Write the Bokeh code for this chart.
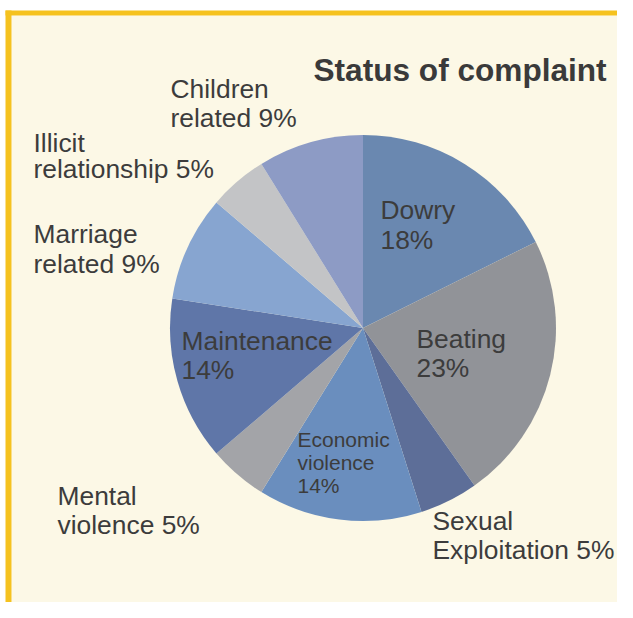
import numpy as np
from bokeh.plotting import figure
from bokeh.models import Range1d, ColumnDataSource
from bokeh.core.properties import value
from bokeh.embed import file_html
from bokeh.resources import INLINE

# ---- data ----
categories = ["Dowry", "Beating", "Sexual Exploitation", "Economic violence",
              "Mental violence", "Maintenance", "Marriage related",
              "Illicit relationship", "Children related"]
percent = [18, 23, 5, 14, 5, 14, 9, 5, 9]
colors = ["#6A88B0", "#919398", "#5D6E98", "#6A8EBE", "#A3A4A8",
          "#5F76A8", "#87A5D0", "#C3C4C6", "#8D9BC5"]
title_text = "Status of complaint"

# label lines (text) and their layout (positions in reference pixel space)
label_lines = [
    ["Dowry", "18%"],
    ["Beating", "23%"],
    ["Sexual", "Exploitation 5%"],
    ["Economic", "violence", "14%"],
    ["Mental", "violence 5%"],
    ["Maintenance", "14%"],
    ["Marriage", "related 9%"],
    ["Illicit", "relationship 5%"],
    ["Children", "related 9%"],
]
label_x = [380, 416, 432, 297, 57, 181, 33, 33, 170]
label_y0 = [209, 338, 520, 439, 495, 340, 233, 142, 88]
label_step = [30, 29, 29, 23, 29, 29, 30, 26, 29]
label_size = ["26.4px", "26.4px", "26.4px", "21px", "26.4px", "26.4px",
              "26.4px", "26.4px", "26.4px"]

W, H = 617, 602
PAGE_H = 618

def fy(y):  # reference pixel y -> data y
    return PAGE_H - y

p = figure(width=W, height=H, output_backend="svg", toolbar_location=None,
           x_range=Range1d(0, W), y_range=Range1d(fy(H), fy(0)),
           min_border=0)
p.axis.visible = False
p.grid.visible = False
p.outline_line_color = None
p.background_fill_color = "white"
p.border_fill_color = "white"

# panel background and yellow frame
p.quad(left=[11], right=[W], bottom=[fy(H)], top=[fy(15)],
       fill_color="#FCF8E6", line_color=None)
p.quad(left=[5], right=[W], bottom=[fy(15)], top=[fy(10)],
       fill_color="#F5C21F", line_color=None)
p.quad(left=[5], right=[11], bottom=[fy(H)], top=[fy(10)],
       fill_color="#F5C21F", line_color=None)

# pie
vals = np.array(percent, dtype=float)
frac = vals / vals.sum()
cum = np.concatenate([[0], np.cumsum(frac)])
start = np.pi / 2 - 2 * np.pi * cum[:-1]
end = np.pi / 2 - 2 * np.pi * cum[1:]
cx, cy, r = 362.5, fy(327.5), 193
src = ColumnDataSource(dict(start=start, end=end, color=colors, cat=categories))
p.wedge(x=cx, y=cy, radius=r, start_angle="start", end_angle="end",
        direction="clock", fill_color="color", line_color=None, source=src)

# title
p.text(x=[313], y=[fy(69)], text=[title_text], text_font=value("Liberation Sans"),
       text_font_size="31.6px", text_font_style="bold", text_color="#3A3A3A",
       text_baseline="alphabetic", text_align="left")

# labels
for lines, x, y0, st, fs in zip(label_lines, label_x, label_y0, label_step, label_size):
    ys = [fy(y0 + i * st) for i in range(len(lines))]
    p.text(x=[x] * len(lines), y=ys, text=lines, text_font=value("Liberation Sans"),
           text_font_size=fs, text_color="#3C3C3C",
           text_baseline="alphabetic", text_align="left")

open("out.html", "w").write(file_html(p, INLINE))
